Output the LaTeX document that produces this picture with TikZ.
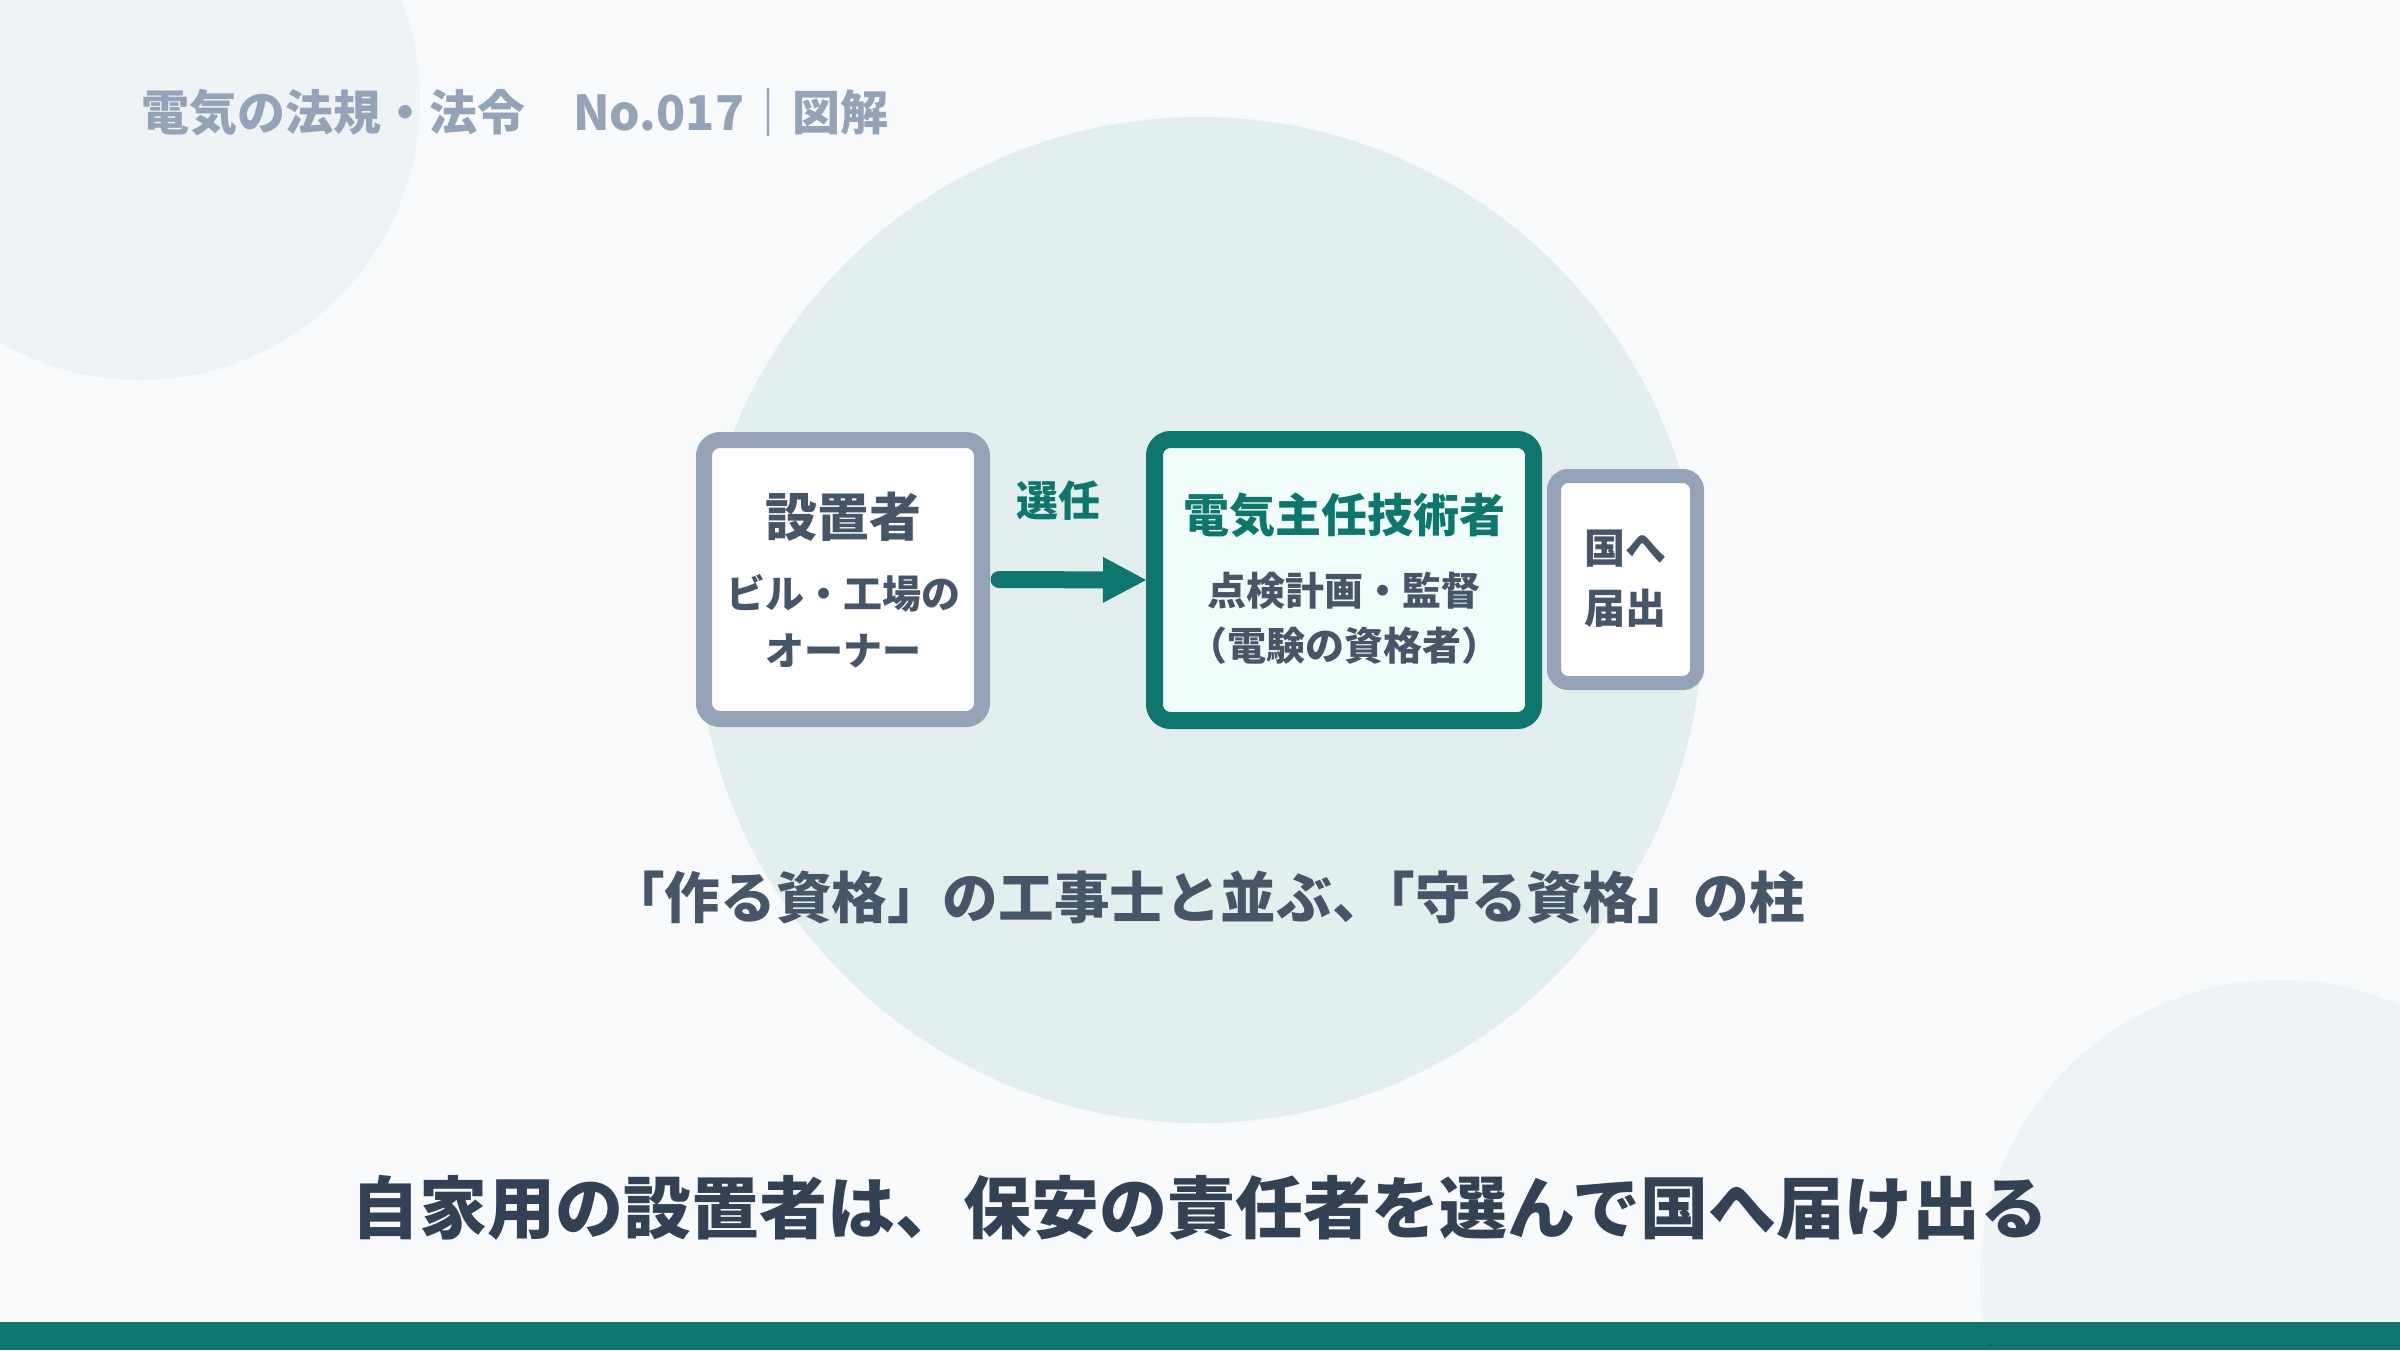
\documentclass[tikz,border=0pt]{standalone}
\usepackage{fontspec}
\setmainfont{Noto Sans CJK JP}
\usetikzlibrary{arrows.meta}
\definecolor{pageBg}{RGB}{248,250,252}
\definecolor{blobGrey}{RGB}{238,243,245}
\definecolor{blobMint}{RGB}{227,239,238}
\definecolor{tealMain}{RGB}{15,118,110}
\definecolor{mintFill}{RGB}{240,253,250}
\definecolor{slateEdge}{RGB}{148,163,184}
\definecolor{slateText}{RGB}{71,85,105}
\definecolor{slateDark}{RGB}{51,65,85}
\tikzset{every picture/.style={line width=0.75pt}}
\tikzset{
  card/.style={draw=slateEdge, fill=white, line width=16pt, rounded corners=16pt, inner sep=0pt},
  keycard/.style={card, draw=tealMain, fill=mintFill, line width=17pt},
  sidecard/.style={card, line width=14pt, rounded corners=14pt},
  flowarrow/.style={draw=tealMain, line width=17pt, line cap=round, shorten <=9pt, -{Triangle[length=43pt,width=46pt,line width=0pt]}},
  jpbold/.style={font=\fontsize{#1}{#1}\selectfont\bfseries},
}

\begin{document}
\begin{tikzpicture}[x=1pt,y=1pt,yscale=-1,xscale=1]
\useasboundingbox (0,0) rectangle (2400,1350);

%Shape: Rectangle [background]
\fill[pageBg] (0,0) rectangle (2400,1350);
\begin{scope}
\clip (0,0) rectangle (2400,1350);
%Shape: Circle [top left]
\fill[blobGrey] (140,100) circle (280);
%Shape: Circle [bottom right]
\fill[blobGrey] (2280,1280) circle (300);
%Shape: Circle [centre]
\fill[blobMint] (1200,620) circle (503);
\end{scope}
%Shape: Rectangle [bottom bar]
\fill[tealMain] (0,1322) rectangle (2400,1350);

%Shape: Rounded Rect [owner]
\node[card, minimum width=278pt, minimum height=279pt] (owner) at (843,579.5) {};
%Shape: Rounded Rect [chief]
\node[keycard, minimum width=379pt, minimum height=281pt] (chief) at (1344,580) {};
%Shape: Rounded Rect [report]
\node[sidecard, minimum width=143pt, minimum height=207pt] (report) at (1625.5,579.5) {};
%Straight Lines [owner to chief]
\draw[flowarrow] (owner.east) -- (chief.west);

% Text Node
\draw (140,130) node [anchor=base west][inner sep=0.75pt] [jpbold=48pt, text=slateEdge] (header) {電気の法規・法令　No.017｜図解};
% Text Node
\draw (1058,516) node [anchor=base][inner sep=0.75pt] [jpbold=42pt, text=tealMain] (selectLabel) {選任};
% Text Node
\draw (843,536) node [anchor=base][inner sep=0.75pt] [jpbold=52pt, text=slateText] (ownerName) {設置者};
% Text Node
\draw (843,608) node [anchor=base][inner sep=0.75pt] [jpbold=39pt, text=slateText] (ownerNoteA) {ビル・工場の};
% Text Node
\draw (843,665) node [anchor=base][inner sep=0.75pt] [jpbold=39pt, text=slateText] (ownerNoteB) {オーナー};
% Text Node
\draw (1344,532) node [anchor=base][inner sep=0.75pt] [jpbold=46pt, text=tealMain] (chiefName) {電気主任技術者};
% Text Node
\draw (1344,605) node [anchor=base][inner sep=0.75pt] [jpbold=39pt, text=slateText] (chiefNoteA) {点検計画・監督};
% Text Node
\draw (1344,660) node [anchor=base][inner sep=0.75pt] [jpbold=39pt, text=slateText] (chiefNoteB) {（電験の資格者）};
% Text Node
\draw (1625.5,563) node [anchor=base][inner sep=0.75pt] [jpbold=41pt, text=slateText] (reportA) {国へ};
% Text Node
\draw (1625.5,623) node [anchor=base][inner sep=0.75pt] [jpbold=41pt, text=slateText] (reportB) {届出};
% Text Node
\draw (1207,918) node [anchor=base][inner sep=0.75pt] [jpbold=55.6pt, text=slateText] (tagline) {「作る資格」の工事士と並ぶ、\hspace{-.5em}「守る資格」の柱};
% Text Node
\draw (1200,1233) node [anchor=base][inner sep=0.75pt] [jpbold=68pt, text=slateDark] (summary) {自家用の設置者は、保安の責任者を選んで国へ届け出る};
\end{tikzpicture}
\end{document}
